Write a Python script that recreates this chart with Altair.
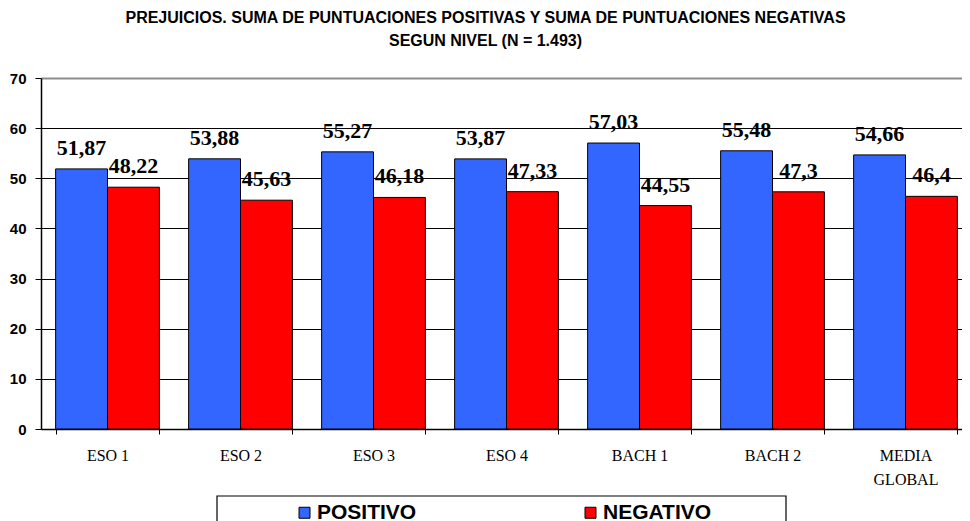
import altair as alt
import pandas as pd

categorias = ["ESO 1", "ESO 2", "ESO 3", "ESO 4", "BACH 1", "BACH 2", "MEDIA GLOBAL"]
series = ["POSITIVO", "NEGATIVO"]
positivo = [51.87, 53.88, 55.27, 53.87, 57.03, 55.48, 54.66]
negativo = [48.22, 45.63, 46.18, 47.33, 44.55, 47.3, 46.4]
colores = ["#3366FF", "#FF0000"]
y_ticks = [0, 10, 20, 30, 40, 50, 60, 70]
titulo = [
    "PREJUICIOS. SUMA DE PUNTUACIONES POSITIVAS Y SUMA DE PUNTUACIONES NEGATIVAS",
    "SEGUN NIVEL (N = 1.493)",
]

rows = []
for cat, p, n in zip(categorias, positivo, negativo):
    rows.append({"nivel": cat, "serie": series[0], "valor": p, "etiqueta": str(p).replace(".", ",")})
    rows.append({"nivel": cat, "serie": series[1], "valor": n, "etiqueta": str(n).replace(".", ",")})
df = pd.DataFrame(rows)

x_enc = alt.X(
    "nivel:N",
    sort=categorias,
    scale=alt.Scale(paddingInner=0.22, paddingOuter=0.11, range=[0, 931]),
    axis=alt.Axis(
        title=None,
        labelAngle=0,
        tickBand="extent",
        tickSize=5,
        tickColor="black",
        domainColor="black",
        domainWidth=1.5,
        labelFont="Liberation Serif",
        labelFontSize=16,
        labelColor="black",
        labelPadding=13,
        labelLineHeight=24,
        labelOverlap=False,
        labelExpr="datum.label == 'MEDIA GLOBAL' ? ['MEDIA', 'GLOBAL'] : datum.label",
    ),
)
xoff = alt.XOffset("serie:N", sort=series, scale=alt.Scale(paddingInner=0, paddingOuter=0))
y_enc = alt.Y(
    "valor:Q",
    scale=alt.Scale(domain=[0, 70], nice=False),
    axis=alt.Axis(
        title=None,
        values=y_ticks,
        grid=True,
        gridColor={"condition": {"test": "datum.value === 70", "value": "#8c8c8c"}, "value": "#000000"},
        gridWidth={"condition": {"test": "datum.value === 70", "value": 2}, "value": 1},
        domainColor="black",
        domainWidth=1.5,
        tickColor="black",
        tickSize=6,
        labelFont="Liberation Sans",
        labelFontWeight="bold",
        labelFontSize=15,
        labelColor="black",
        labelPadding=9,
    ),
)

base = alt.Chart(df).encode(x=x_enc, xOffset=xoff, y=y_enc)

# frame around the legend (decoration only)
legend_frame = alt.Chart(pd.DataFrame({"k": [0]})).mark_rect(
    fill="white", stroke="black", strokeWidth=1.2
).encode(x=alt.value(176), x2=alt.value(745), y=alt.value(418), y2=alt.value(480))

bars = base.mark_bar(stroke="black", strokeWidth=1).encode(
    color=alt.Color(
        "serie:N",
        sort=series,
        scale=alt.Scale(domain=series, range=colores),
        legend=alt.Legend(
            orient="none",
            legendX=253,
            legendY=424,
            direction="horizontal",
            title=None,
            labelFont="Liberation Sans",
            labelFontSize=21,
            labelFontWeight="bold",
            labelColor="black",
            labelOffset=2,
            labelLimit=400,
            symbolType="square",
            symbolSize=121,
            symbolStrokeColor="black",
            symbolStrokeWidth=1,
            symbolOpacity=1,
            columnPadding=163,
            padding=0,
        ),
    )
)

labels = base.mark_text(
    font="Liberation Serif",
    fontSize=22,
    fontWeight="bold",
    baseline="alphabetic",
    dy=-14,
    color="black",
).encode(text="etiqueta:N")

chart = (
    alt.layer(legend_frame, bars, labels)
    .properties(
        width=921,
        height=351,
        autosize="none",
        padding={"left": 33, "top": 70, "right": 0, "bottom": 92},
        title=alt.TitleParams(
            text=titulo,
            font="Liberation Sans",
            fontSize=16,
            fontWeight="bold",
            color="black",
            lineHeight=23,
            anchor="middle",
            frame="group",
            offset=22,
            dx=-16,
        ),
    )
    .configure_view(stroke=None)
    .configure(background="white")
)

chart.save("out.html", embed_options={"renderer": "svg", "actions": False})
